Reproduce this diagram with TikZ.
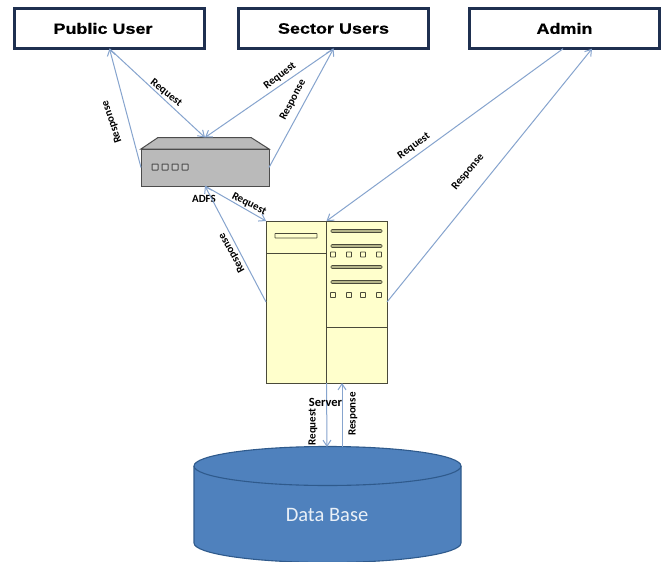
\documentclass[tikz,border=0pt]{standalone}
\usepackage{fontspec}
\setmainfont{Liberation Sans}
\newfontfamily\calfont{Carlito}
\newfontfamily\actorfont[FakeStretch=1.2,BoldFeatures={FakeBold=0.5}]{Liberation Sans}
\usetikzlibrary{arrows.meta}
\definecolor{flow}{HTML}{86A4CE}
\definecolor{navy}{HTML}{1F3050}
\definecolor{cream}{HTML}{FFFFCC}
\definecolor{edgeline}{HTML}{4A4A3A}
\definecolor{dbfill}{HTML}{4F81BD}
\definecolor{dbline}{HTML}{2F5A8C}
\definecolor{barfill}{HTML}{B5B58A}
\tikzset{
  actor/.style={draw=navy,line width=2.6pt,fill=white,minimum width=190.5pt,minimum height=40.5pt,inner sep=0pt,outer sep=0pt,font=\actorfont\fontsize{15}{15}\bfseries},
  flowline/.style={draw=flow,line width=1pt,-{Straight Barb[length=6pt,width=8pt]}},
  lbl/.style={font=\calfont\fontsize{11}{11}\bfseries,text=black,inner sep=0pt},
  boxpart/.style={draw=edgeline,line width=0.9pt,fill=cream},
  barpart/.style={draw=edgeline,line width=0.7pt,fill=barfill,rounded corners=1pt},
  ledpart/.style={draw=edgeline,line width=0.9pt,fill=cream,rounded corners=0.4pt},
  devpart/.style={draw=black!70,line width=1pt,fill=black!27}
}
\begin{document}
\begin{tikzpicture}[x=1pt,y=-1pt]
\useasboundingbox (0,0) rectangle (665,562);
\fill[white] (0,0) rectangle (665,562);

% actors
\node[actor] (pub) at (109.5,28.5) {Public User\hspace*{13pt}};
\node[actor] (sec) at (333.5,28.5) {Sector Users};
\node[actor] (adm) at (564.5,28.5) {Admin};

% ADFS device
\draw[devpart] (141,149) -- (158,137.5) -- (251,137.5) -- (269,149) -- cycle;
\node[devpart,minimum width=128pt,minimum height=37pt,inner sep=0pt,outer sep=0pt] (adfs) at (205,167.5) {};
\coordinate (adfstop) at (205,137.5);
\foreach \x in {152,162,172,182}{
  \draw[draw=black!70,line width=1pt,fill=black!22,rounded corners=0.5pt] (\x,164) rectangle +(6,6);
}
\node[lbl] (adfslbl) at (204,199) {ADFS};

% server
\node[boxpart,minimum width=121pt,minimum height=162pt,inner sep=0pt,outer sep=0pt] (srv) at (326.5,302) {};
\draw[draw=edgeline,line width=0.9pt] (srv.north) -- (srv.south);
\draw[draw=edgeline,line width=0.9pt] (266,253) -- (326.5,253);
\draw[draw=edgeline,line width=0.9pt] (326.5,327) -- (387,327);
\draw[ledpart,line width=0.8pt] (275,233.5) rectangle (317,238);
\foreach \y in {231,246,267,282}{
  \draw[barpart] (331,\y-1.5) rectangle (382,\y+1.5);
}
\foreach \y in {254.5,295}{
  \foreach \x in {333,349,363,379}{
    \draw[ledpart] (\x-2.5,\y-2.5) rectangle (\x+2.5,\y+2.5);
  }
}

% database
\path[fill=dbfill,draw=dbline,line width=1.1pt]
  (194,466) -- (194,543) arc[start angle=180,end angle=360,x radius=133.5pt,y radius=19.5pt] -- (461,466)
  arc[start angle=0,end angle=180,x radius=133.5pt,y radius=19.5pt] -- cycle;
\draw[dbline,line width=1.1pt] (194,466) arc[start angle=180,end angle=360,x radius=133.5pt,y radius=19.5pt];
\node[font=\calfont\fontsize{20.5}{20.5}\selectfont,text=white!88!dbfill,inner sep=0pt] (db) at (327,515) {Data Base};
\coordinate (dbreq) at (327,447);
\coordinate (dbres) at (342,447);

% connectors
\draw[flowline] (pub.south) -- (adfstop);
\draw[flowline] (adfs.west) -- (pub.south);
\draw[flowline] (sec.south) -- (adfstop);
\draw[flowline] (adfs.east) -- (sec.south);
\draw[flowline] (adfs.south) -- (srv.north west);
\draw[flowline] (srv.west) -- (adfs.south);
\draw[flowline] ([xshift=-1.5pt]adm.south) -- (srv.north);
\draw[flowline] (srv.east) -- ([xshift=27.5pt]adm.south);
\draw[flowline] (srv.south) -- (dbreq);
\draw[flowline] (dbres) -- ([xshift=15.5pt]srv.south);

% labels
\node[lbl,rotate=-38] (l1) at (166,93) {Request};
\node[lbl,rotate=109] (l2) at (112,122) {Response};
\node[lbl,rotate=37] (l3) at (280,76) {Request};
\node[lbl,rotate=62] (l4) at (293,100) {Response};
\node[lbl,rotate=-27] (l5) at (249,204) {Request};
\node[lbl,rotate=119] (l6) at (232,253) {Response};
\node[lbl,rotate=36] (l7) at (414,146) {Request};
\node[lbl,rotate=50] (l8) at (468,172) {Response};
\node[lbl,font=\calfont\fontsize{12.5}{12.5}\bfseries] (l9) at (325.5,402) {Server};
\node[lbl,rotate=90] (l10) at (313,427) {Request};
\node[lbl,rotate=90] (l11) at (353,414) {Response};
\end{tikzpicture}
\end{document}
